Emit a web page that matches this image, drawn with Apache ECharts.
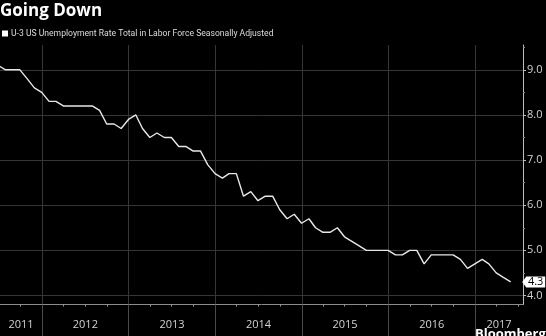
<!DOCTYPE html>
<html>
<head>
<meta charset="utf-8">
<script src="https://cdn.jsdelivr.net/npm/echarts@6/dist/echarts.min.js"></script>
<style>
  html, body { margin: 0; padding: 0; background: #000; }
  #chart { width: 546px; height: 336px; }
</style>
</head>
<body>
<div id="chart"></div>
<script>
// Monthly U-3 unemployment rate, plotted at each month's end.
const seriesName = 'U-3 US Unemployment Rate Total in Labor Force Seasonally Adjusted';

const months = [
  '2011-06', '2011-07', '2011-08', '2011-09', '2011-10', '2011-11', '2011-12',
  '2012-01', '2012-02', '2012-03', '2012-04', '2012-05', '2012-06',
  '2012-07', '2012-08', '2012-09', '2012-10', '2012-11', '2012-12',
  '2013-01', '2013-02', '2013-03', '2013-04', '2013-05', '2013-06',
  '2013-07', '2013-08', '2013-09', '2013-10', '2013-11', '2013-12',
  '2014-01', '2014-02', '2014-03', '2014-04', '2014-05', '2014-06',
  '2014-07', '2014-08', '2014-09', '2014-10', '2014-11', '2014-12',
  '2015-01', '2015-02', '2015-03', '2015-04', '2015-05', '2015-06',
  '2015-07', '2015-08', '2015-09', '2015-10', '2015-11', '2015-12',
  '2016-01', '2016-02', '2016-03', '2016-04', '2016-05', '2016-06',
  '2016-07', '2016-08', '2016-09', '2016-10', '2016-11', '2016-12',
  '2017-01', '2017-02', '2017-03', '2017-04', '2017-05'
];

const rates = [
  9.1, 9.0, 9.0, 9.0, 8.8, 8.6, 8.5,
  8.3, 8.3, 8.2, 8.2, 8.2, 8.2, 8.2, 8.1, 7.8, 7.8, 7.7, 7.9,
  8.0, 7.7, 7.5, 7.6, 7.5, 7.5, 7.3, 7.3, 7.2, 7.2, 6.9, 6.7,
  6.6, 6.7, 6.7, 6.2, 6.3, 6.1, 6.2, 6.2, 5.9, 5.7, 5.8, 5.6,
  5.7, 5.5, 5.4, 5.4, 5.5, 5.3, 5.2, 5.1, 5.0, 5.0, 5.0, 5.0,
  4.9, 4.9, 5.0, 5.0, 4.7, 4.9, 4.9, 4.9, 4.9, 4.8, 4.6, 4.7,
  4.8, 4.7, 4.5, 4.4, 4.3
];

const yearLabels = ['2011', '2012', '2013', '2014', '2015', '2016', '2017'];
const yTickValues = [4, 5, 6, 7, 8, 9];
const yHalfTicks = [4.5, 5.5, 6.5, 7.5, 8.5, 9.5];

// ---- helpers ----
const monthEnd = (ym) => {
  const [y, m] = ym.split('-').map(Number);
  return new Date(y, m, 0).getTime();
};
const yearStart = (y) => new Date(y, 0, 1).getTime();

const axisMin = new Date(2011, 6, 8).getTime();
const axisMax = new Date(2017, 6, 22).getTime();

const years = yearLabels.map(Number);
// year boundaries inside the visible range
const yearBounds = years.map(y => yearStart(y)).filter(t => t > axisMin && t < axisMax);
// quarter marks (Apr / Jul / Oct) inside the visible range
const quarterMarks = [];
years.forEach(y => [3, 6, 9].forEach(m => {
  const t = new Date(y, m, 1).getTime();
  if (t > axisMin && t < axisMax) quarterMarks.push(t);
}));
// each year label sits in the middle of its visible span
const labelPos = years.map(y => {
  const a = Math.max(yearStart(y), axisMin);
  const b = Math.min(yearStart(y + 1), axisMax);
  return (a + b) / 2;
});

const points = months.map((m, i) => [monthEnd(m), rates[i]]);
const last = points[points.length - 1];

const yMin = 3.8, yMax = 9.55;
const labelColor = '#d2d2d2';
const gridColor = '#363636';

const chart = echarts.init(document.getElementById('chart'), null, { renderer: 'canvas' });

chart.setOption({
  backgroundColor: '#000',
  animation: false,
  title: [
    {
      text: 'Going Down',
      left: 0, top: 3, padding: 0,
      textStyle: { color: '#fff', fontSize: 17, fontWeight: 'bold', fontFamily: 'Open Sans' }
    },
    {
      text: 'Bloomberg',
      left: 475, top: 328, padding: 0,
      textStyle: { color: '#fff', fontSize: 13, fontWeight: 'bold', fontFamily: 'Open Sans' }
    }
  ],
  legend: {
    left: 2, top: 29, padding: 0,
    icon: 'rect', itemWidth: 6, itemHeight: 6,
    textStyle: {
      color: '#dcdcdc', fontSize: 8.6, fontFamily: 'Roboto',
      padding: [0, 0, 0, -2]
    },
    data: [{ name: seriesName, itemStyle: { color: '#fff' } }]
  },
  grid: { left: 0, right: 23, top: 45, bottom: 31.5, containLabel: false },
  xAxis: [
    {
      type: 'value', min: axisMin, max: axisMax,
      axisLine: { show: true, lineStyle: { color: '#8c8c8c', width: 1 } },
      axisTick: { show: true, customValues: yearBounds, length: 32, lineStyle: { color: '#4a4a4a' } },
      splitLine: { show: true, lineStyle: { color: gridColor, width: 1 } },
      axisLabel: {
        show: true, customValues: labelPos,
        formatter: (v) => String(new Date(v).getFullYear()),
        color: labelColor, fontSize: 11, fontFamily: 'Open Sans', margin: 15
      }
    },
    {
      type: 'value', min: axisMin, max: axisMax, position: 'bottom',
      axisLine: { show: false },
      axisTick: { show: true, customValues: quarterMarks, length: 2, lineStyle: { color: '#9a9a9a' } },
      axisLabel: { show: false },
      splitLine: { show: false }
    }
  ],
  yAxis: [
    {
      type: 'value', position: 'right', min: yMin, max: yMax,
      axisLine: { show: true, lineStyle: { color: '#bdbdbd', width: 1 } },
      axisTick: { show: true, customValues: yTickValues, length: 3, lineStyle: { color: '#bdbdbd' } },
      axisLabel: {
        show: true, customValues: yTickValues,
        formatter: (v) => v.toFixed(1),
        color: labelColor, fontSize: 11, fontFamily: 'Open Sans', margin: 4
      },
      splitLine: { show: true, lineStyle: { color: gridColor, width: 1 } }
    },
    {
      type: 'value', position: 'right', min: yMin, max: yMax,
      axisLine: { show: false },
      axisTick: { show: true, customValues: yHalfTicks, length: 2, lineStyle: { color: '#8a8a8a' } },
      axisLabel: { show: false },
      splitLine: { show: false }
    }
  ],
  series: [
    {
      name: seriesName,
      type: 'line',
      xAxisIndex: 0, yAxisIndex: 0,
      data: points,
      showSymbol: false,
      symbol: 'none',
      lineStyle: { color: '#e8e8e8', width: 1.4 },
      itemStyle: { color: '#e8e8e8' },
      markPoint: {
        symbol: 'path://M0,6 L5,0 L28,0 L28,12 L5,12 Z',
        symbolKeepAspect: false,
        symbolSize: [23, 11],
        symbolOffset: [23, 0],
        itemStyle: { color: '#fff' },
        label: {
          show: true, color: '#000', fontSize: 11, fontFamily: 'Open Sans',
          offset: [2, 0],
          formatter: (p) => Number(p.value).toFixed(1)
        },
        data: [{ coord: last, value: last[1] }]
      }
    }
  ]
});
</script>
</body>
</html>
